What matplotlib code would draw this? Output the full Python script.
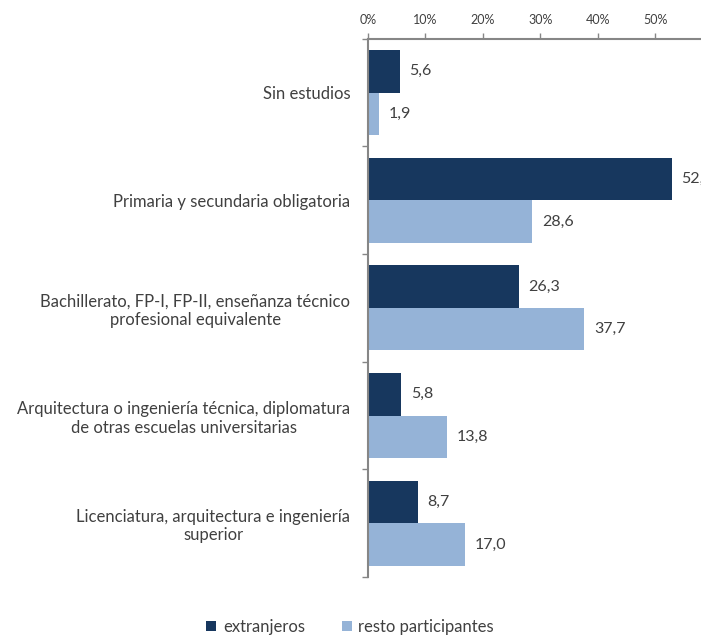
import matplotlib.pyplot as plt
import numpy as np
from matplotlib.patches import Patch

plt.rcParams['font.family'] = ['Lato', 'DejaVu Sans']

categorias = [
    "Sin estudios",
    "Primaria y secundaria obligatoria",
    "Bachillerato, FP-I, FP-II, enseñanza técnico\nprofesional equivalente",
    "Arquitectura o ingeniería técnica, diplomatura\nde otras escuelas universitarias",
    "Licenciatura, arquitectura e ingeniería\nsuperior",
]
extranjeros = [5.6, 52.9, 26.3, 5.8, 8.7]
resto = [1.9, 28.6, 37.7, 13.8, 17.0]
ticks = [0, 10, 20, 30, 40, 50]
series = ["extranjeros", "resto participantes"]

c_osc = "#17375E"
c_cla = "#95B3D7"
gris_txt = "#404040"
gris_eje = "#868686"

fig = plt.figure(figsize=(7.01, 6.35), dpi=100)
# el eje llega hasta 60% pero la imagen original queda cortada por la derecha
ax = fig.add_axes([367.7 / 701, 1 - 577 / 635, 345 / 701, (577 - 38.7) / 635])

y = np.arange(len(categorias))
h = 0.395
ax.barh(y - h / 2, extranjeros, height=h, color=c_osc, edgecolor="none")
ax.barh(y + h / 2, resto, height=h, color=c_cla, edgecolor="none")

def fmt(v):
    return f"{v:.1f}".replace(".", ",")

for yi, v in zip(y, extranjeros):
    ax.annotate(fmt(v), (v, yi - h / 2), xytext=(7, 0), textcoords="offset points",
                va="center", ha="left", fontsize=11.5, color=gris_txt, annotation_clip=False)
for yi, v in zip(y, resto):
    ax.annotate(fmt(v), (v, yi + h / 2), xytext=(7, 0), textcoords="offset points",
                va="center", ha="left", fontsize=11.5, color=gris_txt, annotation_clip=False)

ax.set_xlim(0, 60)
ax.set_ylim(len(categorias) - 0.5, -0.5)

ax.xaxis.tick_top()
ax.set_xticks(ticks)
ax.set_xticklabels([f"{t}%" for t in ticks])
ax.tick_params(axis="x", length=4, width=1, color=gris_eje, labelsize=9,
               labelcolor=gris_txt, pad=5)

ax.set_yticks(y)
ax.set_yticklabels(categorias, fontsize=12, color=gris_txt, ha="right", multialignment="center")
ax.set_yticks(np.arange(-0.5, len(categorias), 1), minor=True)
ax.tick_params(axis="y", which="major", length=0, pad=12.5)
ax.tick_params(axis="y", which="minor", length=4, width=1, color=gris_eje)

for s in ["right", "bottom"]:
    ax.spines[s].set_visible(False)
for s in ["left", "top"]:
    ax.spines[s].set_color(gris_eje)
    ax.spines[s].set_linewidth(1.5)

handles = [Patch(facecolor=c_osc), Patch(facecolor=c_cla)]
fig.legend(handles, series, loc="center", bbox_to_anchor=(350 / 701, 1 - 627 / 635),
           ncol=2, frameon=False, fontsize=12, labelcolor=gris_txt,
           handlelength=0.6, handleheight=0.6, handletextpad=0.4, columnspacing=2.2)

fig.savefig("out.png", dpi=100)
